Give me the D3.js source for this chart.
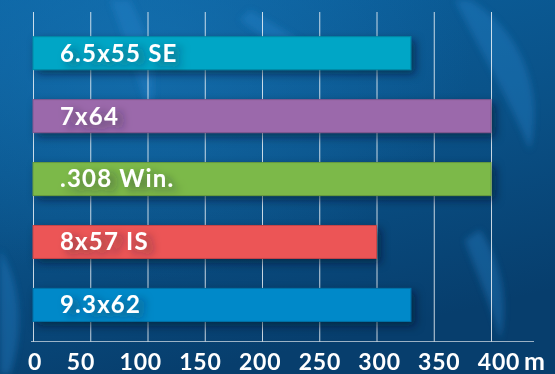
<!DOCTYPE html>
<html>
<head>
<meta charset="utf-8">
<script src="https://cdn.jsdelivr.net/npm/d3@7"></script>
<style>
  html, body { margin: 0; padding: 0; background: #0a4f86; }
  svg { display: block; }
</style>
</head>
<body>
<div id="chart"></div>
<script>
// Effective range per cartridge, in metres
const cartridges = ["6.5x55 SE", "7x64", ".308 Win.", "8x57 IS", "9.3x62"];
const ranges = [330, 400, 400, 300, 330];
const barColors = ["#00a6c6", "#9b69ab", "#7cb94a", "#ec5456", "#0389c9"];
const tickValues = [0, 50, 100, 150, 200, 250, 300, 350, 400];
const unitLabel = "m";

const W = 555, H = 374;
const FONT = "Lato, 'Open Sans', sans-serif";

const svg = d3.select("#chart").append("svg")
  .attr("width", W).attr("height", H);

const defs = svg.append("defs");

// Deep blue backdrop
const bg = defs.append("linearGradient").attr("id", "bg")
  .attr("x1", 0).attr("y1", 0).attr("x2", 0.35).attr("y2", 1);
bg.append("stop").attr("offset", "0%").attr("stop-color", "#0b62a0");
bg.append("stop").attr("offset", "55%").attr("stop-color", "#0a5187");
bg.append("stop").attr("offset", "100%").attr("stop-color", "#073e6d");

const glow = defs.append("radialGradient").attr("id", "glow")
  .attr("cx", 0.25).attr("cy", 0.15).attr("r", 0.6);
glow.append("stop").attr("offset", "0%").attr("stop-color", "#1a7bbd").attr("stop-opacity", 0.55);
glow.append("stop").attr("offset", "100%").attr("stop-color", "#1a7bbd").attr("stop-opacity", 0);

const blurLeaf = defs.append("filter").attr("id", "leafBlur")
  .attr("x", "-50%").attr("y", "-50%").attr("width", "200%").attr("height", "200%");
blurLeaf.append("feGaussianBlur").attr("stdDeviation", 3);

// Soft shadow cast by each bar
const barShadow = defs.append("filter").attr("id", "barShadow")
  .attr("x", "-10%").attr("y", "-40%").attr("width", "125%").attr("height", "200%");
barShadow.append("feDropShadow")
  .attr("dx", 4).attr("dy", 4).attr("stdDeviation", 4)
  .attr("flood-color", "#02172b").attr("flood-opacity", 0.55);

// Dark glow behind the bar captions
const textShadow = defs.append("filter").attr("id", "textShadow")
  .attr("x", "-20%").attr("y", "-60%").attr("width", "160%").attr("height", "240%");
textShadow.append("feDropShadow")
  .attr("dx", 6).attr("dy", 4).attr("stdDeviation", 4)
  .attr("flood-color", "#1b1b2e").attr("flood-opacity", 0.5);

svg.append("rect").attr("width", W).attr("height", H).attr("fill", "url(#bg)");
svg.append("rect").attr("width", W).attr("height", H).attr("fill", "url(#glow)");

// Faint foliage streaks in the backdrop
const leaves = svg.append("g").attr("filter", "url(#leafBlur)").attr("fill", "#2a8ad0");
const leafShapes = [
  "M130,0 C150,40 160,70 150,120 C140,80 125,40 110,0 Z",
  "M470,0 C520,30 545,90 530,150 C510,100 480,50 455,0 Z",
  "M0,250 C20,280 25,330 10,374 L0,374 Z",
  "M250,10 C300,40 330,60 360,70 C320,70 280,50 240,20 Z",
  "M480,230 C500,260 510,300 500,340 C490,300 475,270 465,240 Z"
];
leaves.selectAll("path").data(leafShapes).join("path")
  .attr("d", d => d).attr("opacity", 0.35);

const x = d3.scaleLinear().domain([0, 400]).range([33, 491]);
const y = d3.scaleBand().domain(cartridges)
  .range([36.7, 321.4]).paddingInner(0.476).paddingOuter(0);

// Tick captions sit on their own, slightly wider spread
const xLabel = d3.scaleLinear().domain([50, 400]).range([81, 499]);
const labelPos = d => d === 0 ? x(0) + 2 : xLabel(d);

const axisY = 341.5;

// Vertical grid lines
svg.append("g").selectAll("line").data(tickValues).join("line")
  .attr("x1", d => x(d) + 0.5).attr("x2", d => x(d) + 0.5)
  .attr("y1", 12).attr("y2", axisY)
  .attr("stroke", "#ffffff").attr("stroke-opacity", 0.78).attr("stroke-width", 1);

// Baseline
svg.append("line")
  .attr("x1", 31).attr("x2", 534).attr("y1", axisY).attr("y2", axisY)
  .attr("stroke", "#ffffff").attr("stroke-opacity", 0.6).attr("stroke-width", 1.2);

// Bars
const rows = cartridges.map((c, i) => ({ name: c, value: ranges[i], color: barColors[i] }));
const bars = svg.append("g").selectAll("g").data(rows).join("g");

bars.append("rect")
  .attr("x", x(0)).attr("y", d => y(d.name))
  .attr("width", d => x(d.value) - x(0))
  .attr("height", y.bandwidth())
  .attr("fill", d => d.color)
  .attr("stroke", d => d3.color(d.color).darker(0.5))
  .attr("stroke-width", 1)
  .attr("filter", "url(#barShadow)");

bars.append("text")
  .attr("x", 60)
  .attr("y", d => y(d.name) + y.bandwidth() / 2)
  .attr("dy", "0.35em")
  .attr("fill", "#ffffff")
  .attr("font-family", FONT)
  .attr("font-weight", 700)
  .attr("font-size", 24)
  .attr("letter-spacing", 1.2)
  .attr("filter", "url(#textShadow)")
  .text(d => d.name);

// Axis tick labels
const axisG = svg.append("g");
axisG.selectAll("text").data(tickValues).join("text")
  .attr("x", d => labelPos(d))
  .attr("y", 370)
  .attr("text-anchor", "middle")
  .attr("fill", "#ffffff")
  .attr("font-family", FONT)
  .attr("font-weight", 700)
  .attr("font-size", 23)
  .attr("letter-spacing", 0.8)
  .text(d3.format("d"));

// Unit after the last tick
svg.append("text")
  .attr("x", 524).attr("y", 370)
  .attr("fill", "#ffffff")
  .attr("font-family", FONT)
  .attr("font-weight", 700)
  .attr("font-size", 25)
  .text(unitLabel);
</script>
</body>
</html>
